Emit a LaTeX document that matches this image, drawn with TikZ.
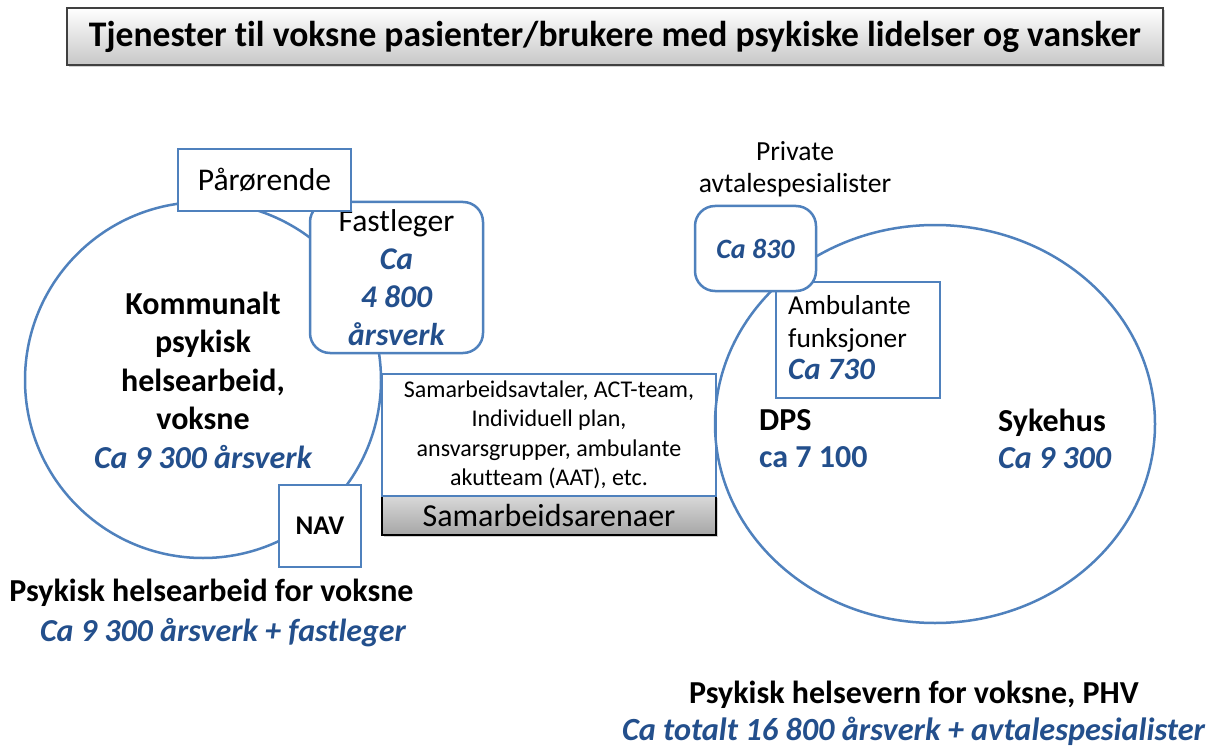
\documentclass[tikz,border=0pt]{standalone}
\usepackage{fontspec}
\setmainfont{Carlito}[Ligatures=NoCommon]
\usetikzlibrary{shapes.geometric,shadows}
\definecolor{lblue}{RGB}{79,129,189}
\definecolor{tblue}{RGB}{35,79,140}
\newcommand{\fsz}[2]{\fontsize{#1}{#2}\selectfont}
\newcommand{\blueit}[1]{\textcolor{tblue}{\bfseries\itshape #1}}
\begin{document}
\begin{tikzpicture}[x=1pt,y=-1pt,
  bbox/.style={draw=lblue, line width=2.5pt, fill=white, inner sep=0pt},
  rbox/.style={bbox, rounded corners=20pt},
  plain/.style={inner sep=0pt}]
\fill[white] (0,0) rectangle (1212,746);
\useasboundingbox (0,0) rectangle (1212,746);

% title
\node[draw=black!75, line width=1.5pt, minimum width=1096pt, minimum height=57pt,
      top color=white, bottom color=black!22, drop shadow={opacity=0.35}, inner sep=0pt]
  (title) at (615,36.5)
  {\resizebox{1052pt}{\height}{\fsz{36}{38}\bfseries Tjenester til voksne pasienter/brukere med psykiske lidelser og vansker}};

% left circle
\node[circle, draw=lblue, line width=2.5pt, minimum size=356pt, inner sep=0pt,
      align=center, font=\fsz{32}{38.5}\bfseries] (lcirc) at (203,380)
  {Kommunalt\\psykisk\\helsearbeid,\\voksne\\\blueit{Ca 9 300 årsverk}};

\node[rbox, minimum width=173pt, minimum height=151pt, align=center, font=\fsz{31.6}{38}]
  (fast) at (396.5,277.5)
  {Fastleger\\\blueit{Ca}\\\blueit{4 800}\\\blueit{årsverk}};

\node[bbox, minimum width=173pt, minimum height=62pt, font=\fsz{31.6}{38}]
  (paar) at (264.5,180) {Pårørende};

\node[bbox, minimum width=82pt, minimum height=82pt, font=\fsz{27}{30}\bfseries]
  (nav) at (320,526) {NAV};

% middle
\node[draw=black, line width=1.5pt, minimum width=334pt, minimum height=39pt,
      top color=black!15, bottom color=black!35, drop shadow={opacity=0.35}, inner sep=0pt,
      font=\fsz{32}{38}] (arena) at (549,515.5) {Samarbeidsarenaer};

\node[bbox, minimum width=334pt, minimum height=122pt, align=center, font=\fsz{24}{29.5}]
  (samarb) at (549,435)
  {Samarbeidsavtaler, ACT-team,\\Individuell plan,\\ansvarsgrupper, ambulante\\akutteam (AAT), etc.};

% right ellipse
\node[ellipse, draw=lblue, line width=2.5pt, minimum width=440pt, minimum height=398pt, inner sep=0pt]
  (rell) at (935,424) {};

\node[bbox, minimum width=164pt, minimum height=116pt] (amb) at (858,340) {};
\node[plain, anchor=west, align=left, font=\fsz{27.4}{32.5}] (ambtxt) at (788,338)
  {Ambulante\\funksjoner\\{\fsz{31}{32.5}\blueit{Ca 730}}};

\node[rbox, minimum width=121pt, minimum height=85pt, font=\fsz{28}{30}]
  (ca830) at (755.5,248.5) {\blueit{Ca 830}};

\node[plain, align=center, font=\fsz{27.6}{32}] (priv) at (795,169)
  {Private\\avtalespesialister};

\node[plain, anchor=west, align=left, font=\fsz{32}{37}\bfseries] (dps) at (759,439)
  {DPS\\\textcolor{tblue}{ca 7 100}};
\node[plain, anchor=west, align=left, font=\fsz{32}{37}\bfseries] (syk) at (998,439)
  {Sykehus\\\blueit{Ca 9 300}};

% bottom captions
\node[plain, font=\fsz{32}{38}\bfseries] (lcap1) at (211.5,593) {Psykisk helsearbeid for voksne};
\node[plain, font=\fsz{32}{38}] (lcap2) at (223,633) {\blueit{Ca 9 300 årsverk + fastleger}};
\node[plain, font=\fsz{32}{38}\bfseries] (rcap1) at (914,695) {Psykisk helsevern for voksne, PHV};
\node[plain, font=\fsz{32.3}{38}] (rcap2) at (913.5,731) {\blueit{Ca totalt 16 800 årsverk + avtalespesialister}};
\end{tikzpicture}
\end{document}
